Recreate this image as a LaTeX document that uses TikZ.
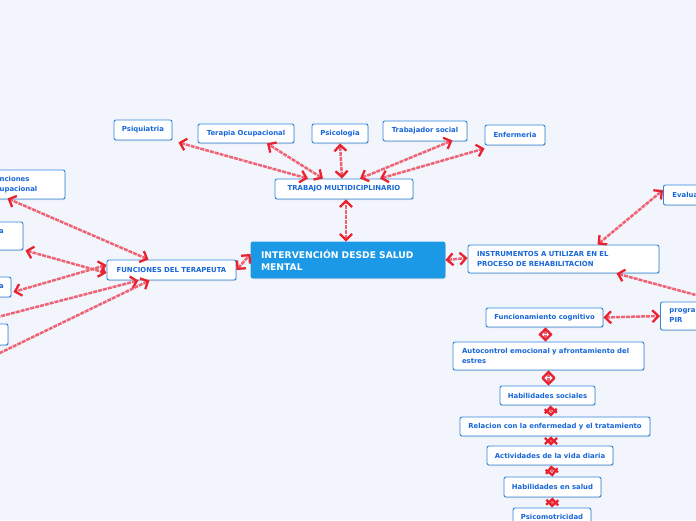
\documentclass[tikz,border=0pt]{standalone}
\usepackage{fontspec}
\setmainfont{DejaVu Sans}
\usetikzlibrary{arrows.meta,shadows}
\definecolor{bgc}{HTML}{F3F5FD}
\definecolor{boxblue}{HTML}{2F86DC}
\definecolor{txtblue}{HTML}{1766D8}
\definecolor{cblue}{HTML}{1B98E6}
\definecolor{linered}{HTML}{EF6474}
\definecolor{tipred}{HTML}{E8222F}
\tikzset{
  box/.style={draw=boxblue, fill=white, rounded corners=2pt, line width=0.9pt,
    text=txtblue, font=\fontsize{6.9}{10}\selectfont\bfseries, inner sep=0pt,
    drop shadow={shadow xshift=0.6pt, shadow yshift=-1pt, opacity=0.25, fill=gray}},
  ltxt/.style={text=txtblue, font=\fontsize{6.9}{10}\selectfont\bfseries, inner sep=0pt, align=left},
  link/.style={draw=linered, line width=2.5pt, dash pattern=on 4pt off 1pt,
    {Straight Barb[color=tipred,length=6pt,width=12pt,line width=2.3pt]}-{Straight Barb[color=tipred,length=6pt,width=12pt,line width=2.3pt]}},
}
\begin{document}
\begin{tikzpicture}[x=1pt,y=-1pt]
\useasboundingbox (0,0) rectangle (696,520);
\fill[bgc] (0,0) rectangle (696,520);
\begin{scope}
\clip (0,0) rectangle (696,520);
% central
\node[box, fill=cblue, draw=cblue, text=white, font=\fontsize{9.2}{12.5}\selectfont\bfseries,
  minimum width=194, minimum height=36, text width=174, align=left] (central) at (348,260)
  {INTERVENCIÓN DESDE SALUD\\MENTAL};
% top branch
\node[box, minimum width=138, minimum height=20] (trab) at (344,189) {TRABAJO MULTIDICIPLINARIO};
\node[box, minimum width=58, minimum height=20] (psiq) at (143,130) {Psiquiatria};
\node[box, minimum width=96, minimum height=19] (tocup) at (246,133.5) {Terapia Ocupacional};
\node[box, minimum width=56, minimum height=19] (psico) at (340,133.5) {Psicologia};
\node[box, minimum width=84, minimum height=20] (tsoc) at (425,131) {Trabajador social};
\node[box, minimum width=60, minimum height=20] (enf) at (515,135) {Enfermeria};
% left branch
\node[box, minimum width=129, minimum height=20] (func) at (171.5,270) {FUNCIONES DEL TERAPEUTA};
\node[box, minimum width=125, minimum height=29] (l1) at (2.5,184.5) {};
\node[ltxt, anchor=west] (l1t) at (-0.5,184.5) {nciones\\upacional};
\node[box, minimum width=120, minimum height=28] (l2) at (-37,236) {};
\node[ltxt, anchor=west] (l2t) at (-1,231.5) {a};
\node[box, minimum width=100, minimum height=20] (l3) at (-39,287) {};
\node[ltxt, anchor=west] (l3t) at (-1,286.5) {a};
\node[box, minimum width=100, minimum height=21] (l4) at (-42,334.5) {};
\coordinate (l5) at (-60,332);
\coordinate (l6) at (-60,382);
% right branch
\node[box, minimum width=191, minimum height=28, text width=173, align=left] (instr) at (563.5,259)
  {INSTRUMENTOS A UTILIZAR EN EL\\PROCESO DE REHABILITACION};
\node[box, anchor=west, minimum height=20, inner xsep=9pt, text width=52, align=left] (eval) at (663,195) {Evalua};
\node[box, anchor=west, minimum height=28, inner xsep=9pt, text width=52, align=left] (prog) at (660,316) {progra\\PIR};
\node[box, minimum width=117, minimum height=19] (fcog) at (544.5,317.5) {Funcionamiento cognitivo};
\node[box, minimum width=191, minimum height=28, text width=173, align=left] (auto) at (548.5,356)
  {Autocontrol emocional y afrontamiento del\\estres};
\node[box, minimum width=95, minimum height=19] (hsoc) at (547.5,395.5) {Habilidades sociales};
\node[box, minimum width=190, minimum height=19] (rel) at (555,426.5) {Relacion con la enfermedad y el tratamiento};
\node[box, minimum width=126, minimum height=19] (act) at (550,455.5) {Actividades de la vida diaria};
\node[box, minimum width=97, minimum height=20] (hsal) at (552.5,487) {Habilidades en salud};
\node[box, minimum width=78, minimum height=18] (psm) at (552,517) {Psicomotricidad};
% connectors
\draw[link] ([xshift=-2pt]central.north) -- ([xshift=2pt]trab.south);
\draw[link] ([xshift=-36pt]trab.north) -- ([xshift=6pt,yshift=-2pt]psiq.south east);
\draw[link] ([xshift=-21pt]trab.north) -- ([xshift=21pt]tocup.south);
\draw[link] ([xshift=-2pt]trab.north) -- (psico.south);
\draw[link] ([xshift=16pt]trab.north) -- ([xshift=-15pt,yshift=1pt]tsoc.south east);
\draw[link] ([xshift=36pt]trab.north) -- ([yshift=-3pt]enf.south west);
\draw[link] (func.east) -- ([yshift=6pt]central.west);
\draw[link] (central.east) -- ([yshift=1pt]instr.west);
\draw[link] ([xshift=-23pt]func.north) -- ([xshift=5pt,yshift=1pt]l1.south);
\draw[link] ([yshift=-3pt]func.west) -- ([xshift=2pt]l2.south east);
\draw[link] ([yshift=5pt]func.west) -- ([xshift=2pt,yshift=-5pt]l3.east);
\draw[link] ([xshift=-33pt]func.south) -- (l5);
\draw[link] ([xshift=-22pt]func.south) -- (l6);
\draw[link] ([xshift=34pt]instr.north) -- ([yshift=5pt]eval.west);
\draw[link] ([xshift=53pt]instr.south) -- ([xshift=60pt]prog.north west);
\draw[link] (fcog.east) -- (prog.west);
\draw[link] ([xshift=1pt]fcog.south) -- ([xshift=-3pt]auto.north);
\draw[link] (auto.south) -- ([xshift=1pt]hsoc.north);
\draw[link] ([xshift=3pt]hsoc.south) -- ([xshift=-4pt]rel.north);
\draw[link] ([xshift=-4pt]rel.south) -- ([xshift=1pt]act.north);
\draw[link] ([xshift=1pt]act.south) -- (hsal.north);
\draw[link] (hsal.south) -- (psm.north);
\end{scope}
\end{tikzpicture}
\end{document}
